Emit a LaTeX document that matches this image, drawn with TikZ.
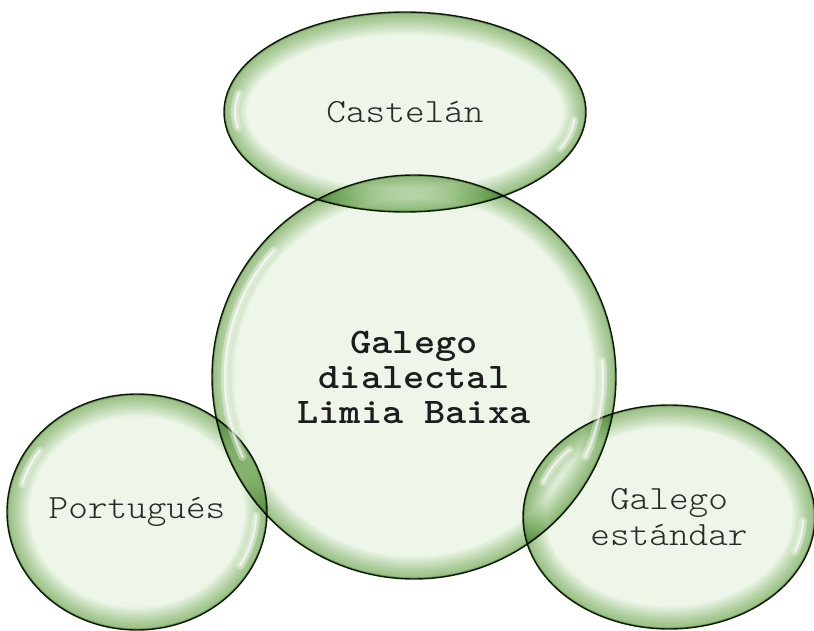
\documentclass[tikz,border=0pt]{standalone}
\usetikzlibrary{shapes.geometric}
\definecolor{bubin}{RGB}{238,246,234}
\definecolor{bubrim}{RGB}{150,200,120}
\definecolor{bubline}{RGB}{22,34,16}
\definecolor{txt}{RGB}{45,45,45}
\newcommand\wideline[2]{\scalebox{#1}[1]{#2}}
\tikzset{
  bub/.style 2 args={ellipse, inner sep=0pt, minimum width=2*#1, minimum height=2*#2,
    fill=bubin, draw=bubline, line width=1.4pt, align=center, text=txt,
    font=\ttfamily\fontseries{l}\fontsize{34}{36}\selectfont,
    path picture={\foreach \w in {3,6,...,45}{
      \draw[bubrim, opacity=0.065, line width=\w pt] (path picture bounding box.center) ellipse[x radius=#1, y radius=#2];}
      \draw[bubrim!70!black, opacity=0.45, line width=3pt] (path picture bounding box.center) ellipse[x radius=#1, y radius=#2];}},
  bold/.style={font=\ttfamily\bfseries\fontsize{36}{35}\selectfont, text=black!88},
  hlw/.style={white, opacity=0.35, line width=8pt, line cap=round},
  hln/.style={white, opacity=0.6, line width=2.5pt, line cap=round}
}
\begin{document}
\begin{tikzpicture}[x=1pt,y=-1pt]
\useasboundingbox (0,0) rectangle (814,631);
\begin{scope}[blend group=multiply]
\node[bub={181pt}{100pt}] (cas) at (405,112) {\wideline{1.1}{Castelán}};
\node[bub={202pt}{202pt}, bold] (gal) at (414,377) {\wideline{1.12}{Galego}\\\wideline{1.12}{dialectal}\\\wideline{1.12}{Limia Baixa}};
\node[bub={130pt}{118pt}] (por) at (137,512) {\wideline{1.1}{Portugués}};
\node[bub={146pt}{112pt}] (est) at (669,517) {\wideline{1.1}{Galego}\\\wideline{1.1}{estándar}};
\end{scope}
% highlights
\foreach \s in {hlw,hln}{
\draw[\s] ([shift={(192:170 and 90)}]cas.center) arc[start angle=192, end angle=170, x radius=170, y radius=90];
\draw[\s] ([shift={(5:170 and 90)}]cas.center) arc[start angle=5, end angle=24, x radius=170, y radius=90];
\draw[\s] ([shift={(222:189 and 189)}]gal.center) arc[start angle=222, end angle=155, x radius=189, y radius=189];
\draw[\s] ([shift={(-5:189 and 189)}]gal.center) arc[start angle=-5, end angle=25, x radius=189, y radius=189];
\draw[\s] ([shift={(215:119 and 107)}]por.center) arc[start angle=215, end angle=195, x radius=119, y radius=107];
\draw[\s] ([shift={(2:119 and 107)}]por.center) arc[start angle=2, end angle=30, x radius=119, y radius=107];
\draw[\s] ([shift={(222:134 and 101)}]est.center) arc[start angle=222, end angle=200, x radius=134, y radius=101];
\draw[\s] ([shift={(2:134 and 101)}]est.center) arc[start angle=2, end angle=20, x radius=134, y radius=101];
}
\end{tikzpicture}
\end{document}
